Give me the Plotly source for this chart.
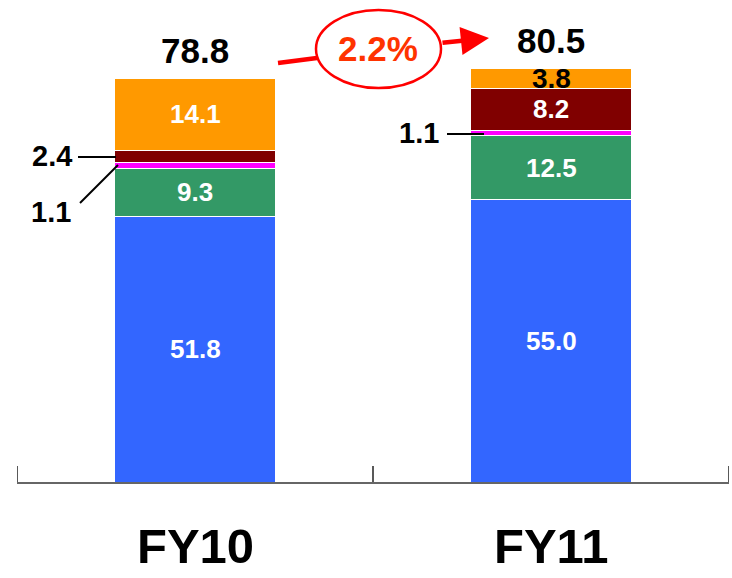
import numpy as np
import plotly.graph_objects as go

# Fiscal years and stacked segment values (bottom to top)
categories = ["FY10", "FY11"]
seg_blue = [51.8, 55.0]
seg_green = [9.3, 12.5]
seg_magenta = [1.1, 1.1]
seg_darkred = [2.4, 8.2]
seg_orange = [14.1, 3.8]
totals = [78.8, 80.5]
growth_label = "2.2%"

segments = [seg_blue, seg_green, seg_magenta, seg_darkred, seg_orange]
colors = ["#3366FF", "#339966", "#FF00FF", "#800000", "#FF9900"]
names = ["Segment 1", "Segment 2", "Segment 3", "Segment 4", "Segment 5"]

W, H = 732, 578
FONT = "Liberation Sans, Arial, sans-serif"


def px(x):
    return x / W


def py(y):
    return 1 - y / H


fig = go.Figure()
for vals, col, nm in zip(segments, colors, names):
    fig.add_trace(go.Bar(
        x=categories, y=vals, name=nm,
        marker=dict(color=col, line=dict(color="white", width=1)),
        width=0.453, hoverinfo="x+y",
    ))

# Segment midpoints for the value labels
arr = np.array(segments)
tops = np.cumsum(arr, axis=0)
mids = tops - arr / 2

annotations = []

# labels drawn inside the segments: (segment, year) -> colour
inside = {
    (0, 0): "white", (1, 0): "white", (4, 0): "white",
    (0, 1): "white", (1, 1): "white", (3, 1): "white", (4, 1): "black",
}
for (s, c), color in inside.items():
    size = 28 if color == "black" else 26
    annotations.append(dict(
        x=categories[c], y=mids[s, c], xref="x", yref="y",
        text=f"<b>{segments[s][c]:.1f}</b>", showarrow=False,
        font=dict(family=FONT, size=size, color=color),
        xanchor="center", yanchor="middle",
    ))

# Totals above the bars
for c, t in enumerate(totals):
    annotations.append(dict(
        x=categories[c], y=tops[-1, c], xref="x", yref="y",
        text=f"<b>{t:.1f}</b>", showarrow=False, yshift=28,
        font=dict(family=FONT, size=35, color="black"),
        xanchor="center", yanchor="middle",
    ))

# Small segments labelled outside the bars
outside = [
    (seg_darkred[0], 52, 156),
    (seg_magenta[0], 51, 212),
    (seg_magenta[1], 419, 133),
]
for v, x, y in outside:
    annotations.append(dict(
        x=px(x), y=py(y), xref="paper", yref="paper",
        text=f"<b>{v:.1f}</b>", showarrow=False,
        font=dict(family=FONT, size=29, color="black"),
        xanchor="center", yanchor="middle",
    ))

# Category labels below the axis
for c in categories:
    annotations.append(dict(
        x=c, y=py(546), xref="x", yref="paper",
        text=f"<b>{c}</b>", showarrow=False,
        font=dict(family=FONT, size=49, color="black"),
        xanchor="center", yanchor="middle",
    ))

# Growth label inside the ellipse
annotations.append(dict(
    x=px(378), y=py(49), xref="paper", yref="paper",
    text=f"<b>{growth_label}</b>", showarrow=False,
    font=dict(family=FONT, size=35, color="#FF3300"),
    xanchor="center", yanchor="middle",
))

# Arrow from the ellipse towards the FY11 total
annotations.append(dict(
    x=px(489), y=py(38), xref="paper", yref="paper",
    ax=441 - 489, ay=43 - 38, axref="pixel", ayref="pixel",
    text="", showarrow=True, arrowhead=2, arrowsize=1.25,
    arrowwidth=4.5, arrowcolor="#FF0000", standoff=0,
))

shapes = [
    # leader lines
    dict(type="line", xref="paper", yref="paper",
         x0=px(78), y0=py(157), x1=px(116), y1=py(157),
         line=dict(color="black", width=2)),
    dict(type="line", xref="paper", yref="paper",
         x0=px(80), y0=py(203), x1=px(118), y1=py(165),
         line=dict(color="black", width=2)),
    dict(type="line", xref="paper", yref="paper",
         x0=px(447), y0=py(134), x1=px(484), y1=py(134),
         line=dict(color="black", width=2)),
    # red connector from the FY10 total to the ellipse
    dict(type="line", xref="paper", yref="paper",
         x0=px(278), y0=py(63), x1=px(317), y1=py(58),
         line=dict(color="#FF0000", width=4.5)),
    # ellipse around the growth figure
    dict(type="circle", xref="paper", yref="paper",
         x0=px(316), y0=py(88), x1=px(441), y1=py(10),
         line=dict(color="#FF0000", width=2.5), fillcolor="white"),
]

# Category boundary ticks rising from the axis line
for xb in [-0.5, 0.5, 1.5]:
    shapes.append(dict(
        type="line", xref="x", yref="paper",
        x0=xb, x1=xb, y0=py(482), y1=py(466),
        line=dict(color="#222222", width=1.5),
    ))

fig.update_layout(
    barmode="stack",
    width=W, height=H,
    margin=dict(l=0, r=0, t=0, b=0),
    paper_bgcolor="white", plot_bgcolor="white",
    showlegend=False,
    annotations=annotations,
    shapes=shapes,
    xaxis=dict(
        domain=[17 / W, 729 / W], range=[-0.5, 1.5],
        showline=True, linecolor="#666666", linewidth=1.5,
        ticks="", showticklabels=False, showgrid=False,
        zeroline=False,
    ),
    yaxis=dict(
        domain=[1 - 482 / H, 1], range=[0, 482 / 5.13],
        visible=False, showgrid=False, zeroline=False,
    ),
)

fig.write_html("out.html")
